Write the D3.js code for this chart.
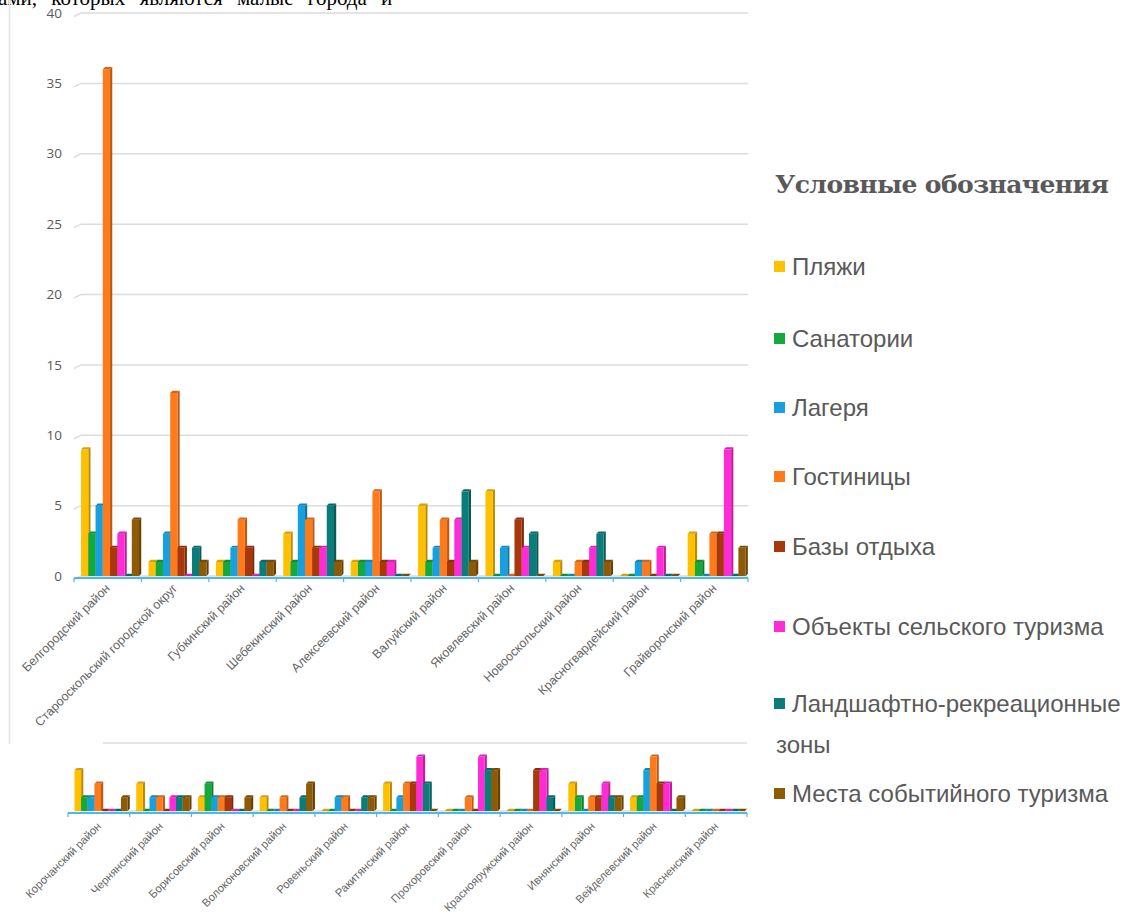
<!DOCTYPE html>
<html>
<head>
<meta charset="utf-8">
<script src="https://cdn.jsdelivr.net/npm/d3@7"></script>
<style>
  body { margin: 0; background: #fff; }
  svg { display: block; }
</style>
</head>
<body>
<div id="chart"></div>
<script>
// series (legend order)
const seriesNames = ["Пляжи", "Санатории", "Лагеря", "Гостиницы", "Базы отдыха",
  "Объекты сельского туризма", "Ландшафтно-рекреационные зоны", "Места событийного туризма"];
const seriesColors = ["#ffc000", "#15a83a", "#16a0de", "#ff7a1a", "#a8380c", "#ff2bd6", "#0a7c7a", "#8e5a04"];

// upper chart
const districtsTop = ["Белгородский район", "Старооскольский городской округ", "Губкинский район",
  "Шебекинский район", "Алексеевский район", "Валуйский район", "Яковлевский район",
  "Новооскольский район", "Красногвардейский район", "Грайворонский район"];
const valuesTop = [
  [9, 3, 5, 36, 2, 3, 0, 4],
  [1, 1, 3, 13, 2, 0, 2, 1],
  [1, 1, 2, 4, 2, 0, 1, 1],
  [3, 1, 5, 4, 2, 2, 5, 1],
  [1, 1, 1, 6, 1, 1, 0, 0],
  [5, 1, 2, 4, 1, 4, 6, 1],
  [6, 0, 2, 0, 4, 2, 3, 0],
  [1, 0, 0, 1, 1, 2, 3, 1],
  [0, 0, 1, 1, 0, 2, 0, 0],
  [3, 1, 0, 3, 3, 9, 0, 2]
];
const yTicksTop = [0, 5, 10, 15, 20, 25, 30, 35, 40];

// lower chart (cropped, no value labels)
const districtsBottom = ["Корочанский район", "Чернянский район", "Борисовский район",
  "Волоконовский район", "Ровеньский район", "Ракитянский район", "Прохоровский район",
  "Краснояружский район", "Ивнянский район", "Вейделевский район", "Красненский район"];
const valuesBottom = [
  [3, 1, 1, 2, 0, 0, 0, 1],
  [2, 0, 1, 1, 0, 1, 1, 1],
  [1, 2, 1, 1, 1, 0, 0, 1],
  [1, 0, 0, 1, 0, 0, 1, 2],
  [0, 0, 1, 1, 0, 0, 1, 1],
  [2, 0, 1, 2, 2, 4, 2, 0],
  [0, 0, 0, 1, 0, 4, 3, 3],
  [0, 0, 0, 0, 3, 3, 1, 0],
  [2, 1, 0, 1, 1, 2, 1, 1],
  [1, 1, 3, 4, 2, 2, 0, 1],
  [0, 0, 0, 0, 0, 0, 0, 0]
];
const yTicksBottom = [0, 5];

const W = 1130, H = 919;
const textGray = "#595959";
const gridGray = "#dcdcdc";
const axisBlue = "#4cb9e6";

const svg = d3.select("#chart").append("svg")
  .attr("width", W)
  .attr("height", H);

// cut-off line of the surrounding document text
svg.append("text")
  .attr("x", -2)
  .attr("y", 5)
  .attr("font-family", "Liberation Serif, serif")
  .attr("font-size", 21)
  .attr("word-spacing", 9)
  .attr("fill", "#000")
  .text("ами, которых являются малые города и");

// frame line of the pasted chart image
svg.append("line")
  .attr("x1", 9.5).attr("x2", 9.5).attr("y1", 0).attr("y2", 744)
  .attr("stroke", "#e3e3e3").attr("stroke-width", 1.5);

function drawPanel(cfg) {
  let g = svg.append("g");

  let x0 = d3.scaleBand()
    .domain(cfg.districts)
    .range(cfg.xRange);

  let bw = x0.bandwidth();
  let x1 = d3.scaleBand()
    .domain(seriesNames)
    .range([bw * 0.105, bw * 0.965]);

  let y = d3.scaleLinear()
    .domain(cfg.yDomain)
    .range(cfg.yRange);

  // gridlines with a small perspective kink at the left end
  g.selectAll(".grid")
    .data(cfg.ticks)
    .enter().append("path")
    .attr("class", "grid")
    .attr("d", d => {
      let k = cfg.kink ? "M" + (cfg.gridStart - 7) + "," + (y(d) + 3.5) + "L" : "M";
      return k + cfg.gridStart + "," + y(d) + "L" + cfg.xRange[1] + "," + y(d);
    })
    .attr("fill", "none")
    .attr("stroke", gridGray)
    .attr("stroke-width", 1.5);

  if (cfg.showTickLabels) {
    g.selectAll(".ylab")
      .data(cfg.ticks)
      .enter().append("text")
      .attr("class", "ylab")
      .attr("x", cfg.xRange[0] - 12)
      .attr("y", d => y(d))
      .attr("dy", "0.35em")
      .attr("text-anchor", "end")
      .attr("font-family", "Open Sans, sans-serif")
      .attr("font-size", 13.5)
      .attr("fill", textGray)
      .text(d => d);
  }

  // bars (3D clustered columns: front, side, top)
  let flat = [];
  cfg.districts.forEach((dist, i) => {
    seriesNames.forEach((s, j) => {
      flat.push({ district: dist, series: s, color: seriesColors[j], value: cfg.values[i][j] });
    });
  });

  let w = x1.bandwidth();
  let dep = 2.2;
  let y0 = y(0);

  let bars = g.selectAll(".bar")
    .data(flat)
    .enter().append("g")
    .attr("class", "bar");

  bars.append("path")
    .attr("d", d => {
      let xl = x0(d.district) + x1(d.series), yt = y(d.value);
      return "M" + (xl + w) + "," + y0 + "L" + (xl + w + dep) + "," + (y0 - dep) +
        "L" + (xl + w + dep) + "," + (yt - dep) + "L" + (xl + w) + "," + yt + "Z";
    })
    .attr("fill", d => d3.color(d.color).darker(0.9));

  bars.append("rect")
    .attr("x", d => x0(d.district) + x1(d.series))
    .attr("y", d => y(d.value))
    .attr("width", w)
    .attr("height", d => y0 - y(d.value))
    .attr("fill", d => d.color);

  bars.append("path")
    .attr("d", d => {
      let xl = x0(d.district) + x1(d.series), yt = y(d.value);
      return "M" + xl + "," + yt + "L" + (xl + dep) + "," + (yt - dep) +
        "L" + (xl + w + dep) + "," + (yt - dep) + "L" + (xl + w) + "," + yt + "Z";
    })
    .attr("fill", d => d3.color(d.color).darker(0.5));

  // category axis
  let ay = y0 + 2;
  g.append("line")
    .attr("x1", cfg.xRange[0]).attr("x2", cfg.xRange[1])
    .attr("y1", ay).attr("y2", ay)
    .attr("stroke", axisBlue).attr("stroke-width", 2);

  let bounds = cfg.districts.map(d => x0(d)).concat([cfg.xRange[1]]);
  g.selectAll(".xtick")
    .data(bounds)
    .enter().append("line")
    .attr("class", "xtick")
    .attr("x1", d => d).attr("x2", d => d)
    .attr("y1", ay).attr("y2", ay + 4)
    .attr("stroke", axisBlue).attr("stroke-width", 1.2);

  g.selectAll(".xlab")
    .data(cfg.districts)
    .enter().append("text")
    .attr("class", "xlab")
    .attr("transform", d => "translate(" + (x0(d) + bw / 2 + 3) + "," + cfg.labelY + ") rotate(-45)")
    .attr("text-anchor", "end")
    .attr("font-family", "Liberation Sans, Arial, sans-serif")
    .attr("font-size", cfg.labelSize)
    .attr("fill", "#666")
    .text(d => d);
}

drawPanel({
  districts: districtsTop,
  values: valuesTop,
  yDomain: [0, 40],
  yRange: [576, 13],
  xRange: [74, 748],
  ticks: yTicksTop,
  showTickLabels: true,
  kink: true,
  gridStart: 81,
  labelY: 589,
  labelSize: 12.5
});

drawPanel({
  districts: districtsBottom,
  values: valuesBottom,
  yDomain: [0, 5],
  yRange: [811, 743],
  xRange: [68, 747],
  ticks: yTicksBottom,
  showTickLabels: false,
  kink: false,
  gridStart: 103,
  labelY: 827,
  labelSize: 11.3
});

// legend
let legend = svg.append("g");

legend.append("text")
  .attr("x", 775)
  .attr("y", 193)
  .attr("font-family", "DejaVu Serif, serif")
  .attr("font-weight", "bold")
  .attr("font-size", 25)
  .attr("fill", textGray)
  .attr("textLength", 334)
  .text("Условные обозначения");

const legendRows = [275, 347, 416, 485, 555, 635, 712, 802];

let items = legend.selectAll(".item")
  .data(seriesNames)
  .enter().append("g")
  .attr("class", "item")
  .attr("transform", (d, i) => "translate(774," + legendRows[i] + ")");

items.append("rect")
  .attr("x", 0)
  .attr("y", -14)
  .attr("width", 11)
  .attr("height", 11)
  .attr("fill", (d, i) => seriesColors[i]);

items.append("text")
  .attr("x", 18)
  .attr("y", 0)
  .attr("font-family", "Liberation Sans, Arial, sans-serif")
  .attr("font-size", 24)
  .attr("fill", textGray)
  .each(function (d) {
    // long name wraps onto a second line in the original
    let parts = d === "Ландшафтно-рекреационные зоны" ? ["Ландшафтно-рекреационные", "зоны"] : [d];
    let t = d3.select(this);
    t.text(parts[0]);
    if (parts.length > 1) {
      t.append("tspan").attr("x", 2).attr("dy", 41).text(parts[1]);
    }
  });
</script>
</body>
</html>
